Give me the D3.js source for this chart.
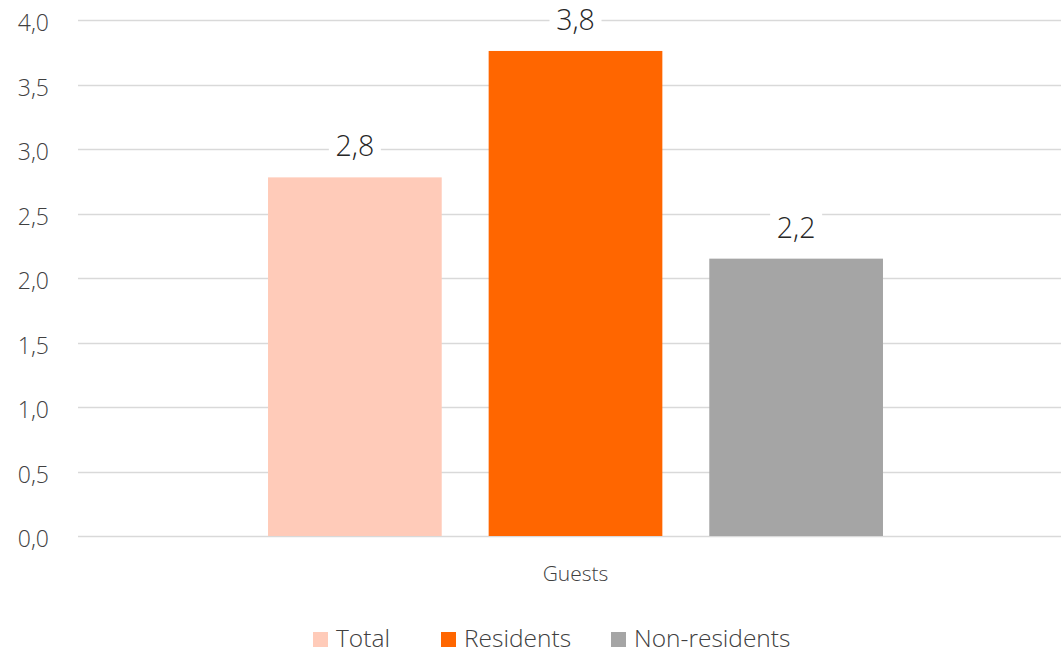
<!DOCTYPE html>
<html><head><meta charset="utf-8">
<script src="https://cdn.jsdelivr.net/npm/d3@7"></script>
<style>body{margin:0;background:#fff;}svg{display:block;font-family:"Open Sans","Noto Sans",sans-serif;}text{font-weight:300;}</style>
</head><body><svg id="c" width="1061" height="654"></svg>
<script>
const categories = ["Guests"];
const seriesNames = ["Total", "Residents", "Non-residents"];
const seriesValues = [2.78, 3.76, 2.15];
const seriesLabels = ["2,8", "3,8", "2,2"];
const seriesColors = ["#ffcbb9", "#ff6600", "#a5a5a5"];
const yTicks = [0, 0.5, 1, 1.5, 2, 2.5, 3, 3.5, 4];

const svg = d3.select("#c");
const FF = "'Open Sans','Noto Sans',sans-serif";
const y = d3.scaleLinear().domain([0, 4]).range([536, 20]);
const x0 = d3.scaleBand().domain(categories).range([78, 1073]).paddingInner(0).paddingOuter(0.309);
const x1 = d3.scaleBand().domain(seriesNames).range([0, x0.bandwidth()]).paddingInner(0.2127).paddingOuter(0);
const fmt = d => d3.format(".1f")(d).replace(".", ",");

// gridlines
svg.append("g").selectAll("line").data(yTicks).join("line")
  .attr("x1", 78).attr("x2", 1061)
  .attr("y1", d => Math.round(y(d)) + 0.5).attr("y2", d => Math.round(y(d)) + 0.5)
  .attr("stroke", "#d9d9d9").attr("stroke-width", 1.3);

// y axis labels
const yAxis = d3.axisLeft(y).tickValues(yTicks).tickFormat(fmt).tickSize(0).tickPadding(0);
const ya = svg.append("g").attr("transform", "translate(49,0)").call(yAxis);
ya.select(".domain").remove();
ya.selectAll("text").attr("font-size", 23).attr("dy", "0.46em").attr("fill", "#404040").attr("font-family", FF);

// bars
const g = svg.append("g").attr("transform", `translate(${x0(categories[0])},0)`);
const data = seriesNames.map((n, i) => ({name: n, v: seriesValues[i], label: seriesLabels[i], color: seriesColors[i]}));
g.selectAll("rect").data(data).join("rect")
  .attr("x", d => x1(d.name)).attr("width", x1.bandwidth())
  .attr("y", d => y(d.v)).attr("height", d => y(0) - y(d.v))
  .attr("fill", d => d.color);

// value labels with white background
const lab = g.selectAll("g.lab").data(data).join("g").attr("class", "lab")
  .attr("transform", d => `translate(${x1(d.name) + x1.bandwidth() / 2},${y(d.v) - 21})`);
lab.append("rect").attr("x", -26).attr("y", -27).attr("width", 52).attr("height", 34).attr("fill", "#fff");
lab.append("text").attr("text-anchor", "middle").attr("font-size", 28.5).attr("fill", "#262626").text(d => d.label);

// category label
const xa = d3.axisBottom(x0).tickSize(0).tickPadding(0);
const xg = svg.append("g").attr("transform", "translate(0,581)").call(xa);
xg.select(".domain").remove();
xg.selectAll("text").attr("dy", 0).attr("font-size", 21).attr("fill", "#404040").attr("font-family", FF);

// legend
const legX = [313, 441, 611];
const leg = svg.append("g").selectAll("g").data(data).join("g")
  .attr("transform", (d, i) => `translate(${legX[i]},632)`);
leg.append("rect").attr("width", 15).attr("height", 15).attr("fill", d => d.color);
leg.append("text").attr("x", 23).attr("y", 15).attr("font-size", 24.5).attr("fill", "#404040").text(d => d.name);
</script></body></html>
